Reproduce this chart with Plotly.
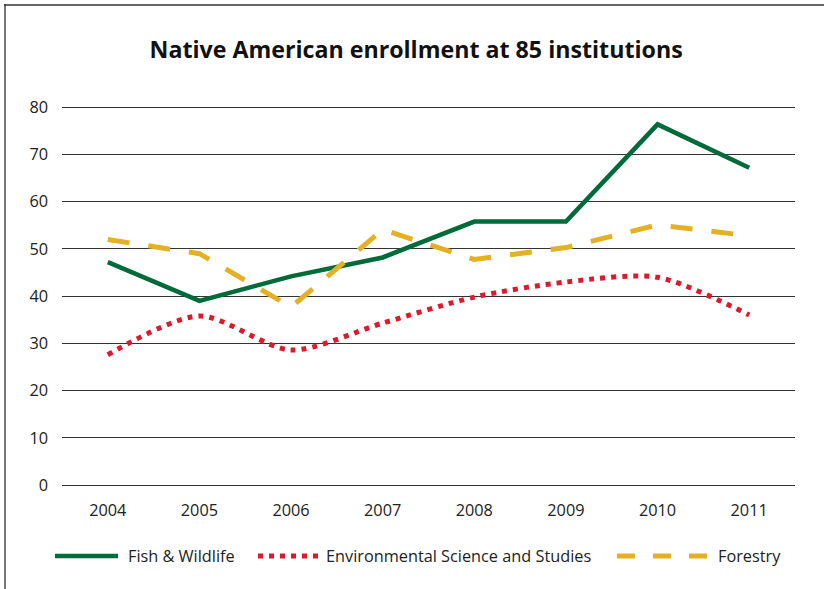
import plotly.graph_objects as go

years = ["2004", "2005", "2006", "2007", "2008", "2009", "2010", "2011"]
fish_wildlife = [47.2, 39.0, 44.2, 48.2, 55.8, 55.8, 76.4, 67.2]
env_science = [27.6, 35.8, 28.6, 34.3, 39.8, 43.0, 44.0, 36.0]
forestry = [52.0, 49.0, 37.7, 54.1, 47.8, 50.3, 55.1, 52.8]
y_ticks = [0, 10, 20, 30, 40, 50, 60, 70, 80]

GREEN = "#006B3A"
RED = "#DB1A2E"
GOLD = "#E5B124"
FONT = "Open Sans"

W, H = 824, 589
ML, MR, MT, MB = 62, 29, 105, 104

fig = go.Figure()
fig.add_trace(go.Scatter(x=years, y=fish_wildlife, mode="lines", name="Fish & Wildlife",
                         line=dict(color=GREEN, width=4.5)))
fig.add_trace(go.Scatter(x=years, y=env_science, mode="lines", name="Environmental Science and Studies",
                         line=dict(color=RED, width=5, dash="5px,6px", shape="spline", smoothing=0.8)))
fig.add_trace(go.Scatter(x=years, y=forestry, mode="lines", name="Forestry",
                         line=dict(color=GOLD, width=5, dash="22px,19px")))

# manual legend
pw = W - ML - MR
ph = H - MT - MB
def px(x):
    return (x - ML) / pw
ly = (H - MB - 556) / ph
legend_items = [
    ("Fish & Wildlife", GREEN, "solid", 55, 118, 126),
    ("Environmental Science and Studies", RED, "5px,6px", 258, 318, 324),
    ("Forestry", GOLD, "18px,18px", 617, 709, 716),
]
for label, col, dash, x0, x1, tx in legend_items:
    fig.add_shape(type="line", xref="paper", yref="paper", x0=px(x0), x1=px(x1), y0=ly, y1=ly,
                  line=dict(color=col, width=5 if dash != "solid" else 4.5, dash=dash))
    fig.add_annotation(xref="paper", yref="paper", x=px(tx), y=ly, text=label, showarrow=False,
                       xanchor="left", yanchor="middle", font=dict(family=FONT, size=16.3, color="#222"))

# frame lines (left and top)
fig.add_shape(type="line", xref="paper", yref="paper", x0=px(5), x1=px(5), y0=(H - MB - 4) / ph, y1=(H - MB - 592) / ph,
              line=dict(color="#777", width=2))
fig.add_shape(type="line", xref="paper", yref="paper", x0=px(4), x1=px(826), y0=(H - MB - 5) / ph, y1=(H - MB - 5) / ph,
              line=dict(color="#333", width=1.5))

fig.update_layout(
    width=W, height=H,
    margin=dict(l=ML, r=MR, t=MT, b=MB),
    paper_bgcolor="white", plot_bgcolor="white",
    showlegend=False,
    title=dict(text="<b>Native American enrollment at 85 institutions</b>", x=0.505, xanchor="center",
               y=1 - 50 / H, yanchor="middle", yref="container",
               font=dict(family=FONT, size=23.2, color="#111")),
    font=dict(family=FONT, size=16.3, color="#222"),
    xaxis=dict(type="category", range=[-0.5, 7.5], showgrid=False, showline=False, ticks="",
               ticklabelstandoff=14, tickfont=dict(family=FONT, size=16.3, color="#222")),
    yaxis=dict(range=[0, 80.5], tickvals=y_ticks, showgrid=True, gridcolor="#333", gridwidth=1,
               zeroline=True, zerolinecolor="#333", zerolinewidth=1.2, showline=False, ticks="",
               ticklabelstandoff=13, tickfont=dict(family=FONT, size=16.3, color="#222")),
)

fig.write_html("out.html")
